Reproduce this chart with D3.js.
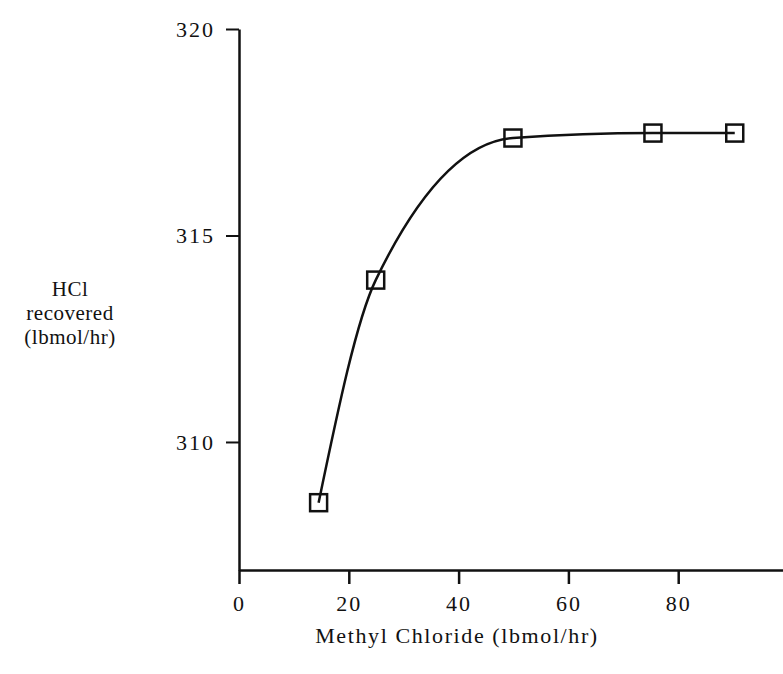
<!DOCTYPE html>
<html>
<head>
<meta charset="utf-8">
<script src="https://cdn.jsdelivr.net/npm/d3@7"></script>
<style>
  body { margin: 0; background: #fff; }
  svg text { font-family: "Liberation Serif", "Times New Roman", serif; fill: #111; }
  .axis path, .axis line { stroke: #111; }
</style>
</head>
<body>
<svg id="chart" width="783" height="674"></svg>
<script>
// data
const methylChloride = [14.5, 24.9, 49.9, 75.4, 90.3];
const hclRecovered = [308.53, 313.92, 317.36, 317.48, 317.48];
const xTicks = [0, 20, 40, 60, 80, 100];
const yTicks = [310, 315, 320];
const xTitle = "Methyl Chloride (lbmol/hr)";
const yTitle = ["HCl", "recovered", "(lbmol/hr)"];

const svg = d3.select("#chart");
const margin = {left: 239, top: 29, right: 0, bottom: 104};
const width = +svg.attr("width");
const height = +svg.attr("height");
const innerW = 549;
const innerH = height - margin.top - margin.bottom;

const g = svg.append("g")
  .attr("transform", `translate(${margin.left}, ${margin.top})`);

const x = d3.scaleLinear().domain([0, 100]).range([0, innerW]);
const y = d3.scaleLinear().domain([306.9, 320]).range([innerH, 0]);

const xAxis = d3.axisBottom(x)
  .tickValues(xTicks)
  .tickSize(14)
  .tickSizeOuter(0)
  .tickPadding(11)
  .tickFormat(d => d === 100 ? "" : d);

const yAxis = d3.axisLeft(y)
  .tickValues(yTicks)
  .tickSize(13)
  .tickSizeOuter(0)
  .tickPadding(11);

const xg = g.append("g").attr("class", "axis")
  .attr("transform", `translate(0, ${innerH})`)
  .call(xAxis);
const yg = g.append("g").attr("class", "axis").call(yAxis);

xg.attr("font-family", null);
yg.attr("font-family", null);
xg.select(".domain").attr("stroke-width", 2.5);
yg.select(".domain").attr("stroke-width", 2.5);
xg.selectAll(".tick line").attr("stroke-width", 2.5);
yg.selectAll(".tick line").attr("stroke-width", 2);
xg.selectAll("text").attr("font-size", 22).attr("letter-spacing", 2);
yg.selectAll("text").attr("font-size", 22).attr("letter-spacing", 2);

const pts = methylChloride.map((v, i) => ({x: v, y: hclRecovered[i]}));

const line = d3.line()
  .x(d => x(d.x))
  .y(d => y(d.y))
  .curve(d3.curveMonotoneX);

g.append("path")
  .datum(pts)
  .attr("d", line)
  .attr("fill", "none")
  .attr("stroke", "#111")
  .attr("stroke-width", 2.5);

const sq = 17;
g.selectAll(".pt")
  .data(pts)
  .enter()
  .append("rect")
    .attr("class", "pt")
    .attr("x", d => x(d.x) - sq / 2)
    .attr("y", d => y(d.y) - sq / 2)
    .attr("width", sq)
    .attr("height", sq)
    .attr("fill", "none")
    .attr("stroke", "#111")
    .attr("stroke-width", 2.5);

svg.append("text")
  .attr("x", 457)
  .attr("y", 643)
  .attr("text-anchor", "middle")
  .attr("font-size", 22)
  .attr("letter-spacing", 1.6)
  .text(xTitle);

svg.append("g")
  .selectAll("text")
  .data(yTitle)
  .enter()
  .append("text")
    .attr("x", 70)
    .attr("y", (d, i) => 296 + i * 24)
    .attr("text-anchor", "middle")
    .attr("font-size", 21)
    .attr("letter-spacing", 0.5)
    .text(d => d);
</script>
</body>
</html>
